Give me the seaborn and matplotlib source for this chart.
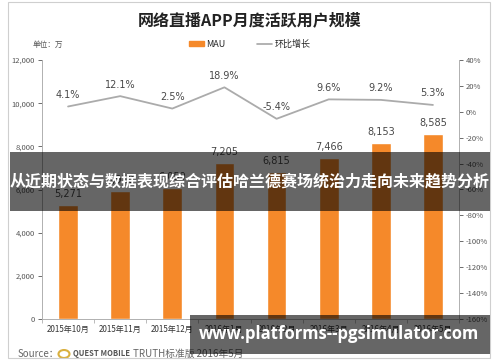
import matplotlib
matplotlib.use("Agg")
import matplotlib.pyplot as plt
import seaborn as sns
import pandas as pd
from matplotlib.patches import Rectangle, Circle
from matplotlib.lines import Line2D
from matplotlib.patches import Patch
from matplotlib.ticker import FuncFormatter, MultipleLocator

months = ["2015年10月", "2015年11月", "2015年12月", "2016年1月",
          "2016年2月", "2016年3月", "2016年4月", "2016年5月"]
mau = [5271, 5910, 6059, 7205, 6815, 7466, 8153, 8585]
growth = [4.1, 12.1, 2.5, 18.9, -5.4, 9.6, 9.2, 5.3]

sns.set_theme(style="white")
plt.rcParams["font.family"] = ["Noto Sans CJK SC", "DejaVu Sans"]

W, H = 500, 362
fig = plt.figure(figsize=(5, 3.62), dpi=100)
fig.patch.set_facecolor("white")

def fx(x):
    return x / W

def fy(y):
    return 1 - y / H

ax = fig.add_axes([fx(42), fy(319), fx(459) - fx(42), fy(60) - fy(319)])
df = pd.DataFrame({"month": months, "MAU": mau, "growth": growth})
orange = "#F5892A"
grey_txt = "#555555"
sns.barplot(data=df, x="month", y="MAU", color=orange, width=0.38,
            saturation=1, ax=ax, zorder=2)
ax.set_ylim(0, 12000)
ax.set_xlim(-0.5, len(months) - 0.5)
ax.yaxis.set_major_locator(MultipleLocator(2000))
ax.yaxis.set_major_formatter(FuncFormatter(lambda v, p: f"{int(v):,}"))
ax.set_xlabel("")
ax.set_ylabel("")
ax.tick_params(axis="y", labelsize=5.5, colors=grey_txt, length=3, width=0.6,
               direction="out", left=True, pad=2)
ax.tick_params(axis="x", labelsize=5.8, colors="#333333", length=0, pad=4)
for s in ["top", "right"]:
    ax.spines[s].set_visible(False)
for s in ["left", "bottom"]:
    ax.spines[s].set_color("#b0b0b0")
    ax.spines[s].set_linewidth(0.7)
ax.set_xticks([i + 0.5 for i in range(-1, len(months))], minor=True)
ax.tick_params(axis="x", which="minor", length=3, width=0.6, color="#b0b0b0",
               bottom=True, direction="out")
ax.grid(False)

for i, v in enumerate(mau):
    ax.text(i, v + 280, f"{v:,}", ha="center", va="bottom", fontsize=7,
            color="#484848", family="DejaVu Sans")

ax2 = ax.twinx()
sns.lineplot(data=df, x="month", y="growth", ax=ax2, color="#ababab",
             linewidth=1.3, sort=False, zorder=3)
ax2.set_ylim(-160, 40)
ax2.yaxis.set_major_locator(MultipleLocator(20))
ax2.yaxis.set_major_formatter(FuncFormatter(lambda v, p: f"{int(v)}%"))
ax2.set_ylabel("")
ax2.tick_params(axis="y", labelsize=5.5, colors=grey_txt, length=3, width=0.6,
                direction="out", right=True, pad=2)
for s in ["top", "left", "bottom"]:
    ax2.spines[s].set_visible(False)
ax2.spines["right"].set_color("#b0b0b0")
ax2.spines["right"].set_linewidth(0.7)
ax2.grid(False)
for i, g in enumerate(growth):
    ax2.text(i, g + 5, f"{g}%", ha="center", va="bottom", fontsize=7,
             color="#484848", family="DejaVu Sans")

fig.text(0.5, fy(20), "网络直播APP月度活跃用户规模", ha="center", va="center",
         fontsize=11.5, fontweight="bold", color="#222222")
fig.text(fx(33), fy(45), "单位：万", ha="left", va="center", fontsize=5.5,
         color=grey_txt)
handles = [Patch(color=orange, label="MAU"),
           Line2D([0], [0], color="#a6a6a6", lw=1.2, label="环比增长")]
fig.legend(handles=handles, loc="center", bbox_to_anchor=(fx(250), fy(44)),
           ncol=2, frameon=False, fontsize=6.5, handlelength=1.6,
           handleheight=0.5, columnspacing=3.5, handletextpad=0.3)

fig.text(fx(18), fy(354), "Source：", ha="left", va="center", fontsize=7,
         color="#666666")
fig.patches.append(Circle((fx(64), fy(354)), 0.011, transform=fig.transFigure,
                          fill=False, ec="#d9b040", lw=1.5))
fig.text(fx(73), fy(354), "QUEST MOBILE", ha="left", va="center", fontsize=5.5,
         fontweight="bold", color="#555555")
fig.text(fx(133), fy(354), "TRUTH标准版 2016年5月", ha="left", va="center",
         fontsize=7, color="#666666")

fig.patches.append(Rectangle((fx(8), fy(358)), fx(490) - fx(8), fy(2) - fy(358),
                             transform=fig.transFigure, fill=False,
                             ec="#cfcfcf", lw=0.8))

fig.patches.append(Rectangle((fx(10), fy(211)), fx(490) - fx(10), fy(152) - fy(211),
                             transform=fig.transFigure, color="black",
                             alpha=0.6, lw=0, zorder=10))
fig.text(fx(250), fy(182), "从近期状态与数据表现综合评估哈兰德赛场统治力走向未来趋势分析",
         ha="center", va="center", fontsize=11.5, fontweight="bold",
         color="white", zorder=11)
fig.patches.append(Rectangle((fx(190), fy(354)), fx(490) - fx(190), fy(315) - fy(354),
                             transform=fig.transFigure, color="black",
                             alpha=0.6, lw=0, zorder=10))
fig.text(fx(339), fy(334), "www.platforms--pgsimulator.com", ha="center",
         va="center", fontsize=12, fontweight="bold", color="white",
         family=["Open Sans", "DejaVu Sans"], zorder=11)

fig.savefig("out.png", dpi=100)
